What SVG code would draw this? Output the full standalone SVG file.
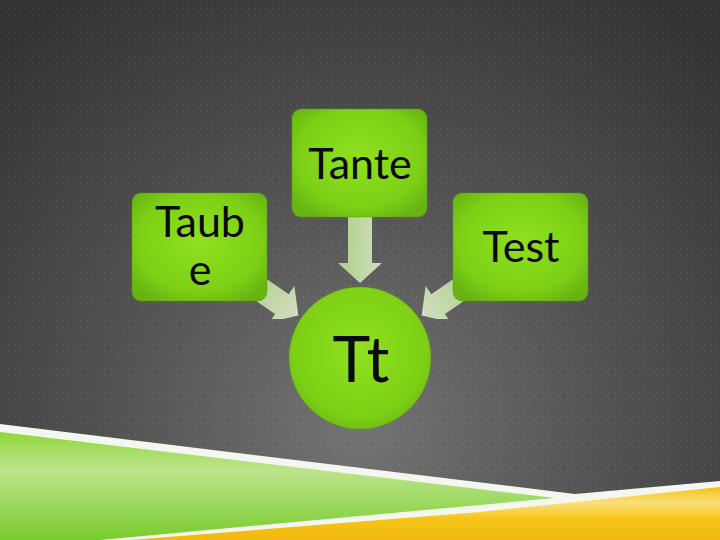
<svg xmlns="http://www.w3.org/2000/svg" width="720" height="540" viewBox="0 0 720 540">
  <defs>
    <radialGradient id="bg" cx="360" cy="430" r="520" gradientUnits="userSpaceOnUse">
      <stop offset="0" stop-color="#737373"/>
      <stop offset="0.45" stop-color="#545454"/>
      <stop offset="1" stop-color="#333333"/>
    </radialGradient>
    <pattern id="dots" width="6" height="6" patternUnits="userSpaceOnUse">
      <rect x="2" y="2" width="1.5" height="1.5" fill="#ffffff" fill-opacity="0.07"/>
    </pattern>
    <radialGradient id="nodeFill" cx="0.5" cy="0.45" r="0.65">
      <stop offset="0" stop-color="#8fe01e"/>
      <stop offset="0.7" stop-color="#7dd016"/>
      <stop offset="1" stop-color="#66b312"/>
    </radialGradient>
    <linearGradient id="arrowFill" x1="0" y1="0" x2="1" y2="0">
      <stop offset="0" stop-color="#b5d98c"/>
      <stop offset="1" stop-color="#dbe9c8"/>
    </linearGradient>
    <linearGradient id="greenBand" x1="0" y1="0" x2="0" y2="1">
      <stop offset="0" stop-color="#8fd83a"/>
      <stop offset="0.35" stop-color="#bde48c"/>
      <stop offset="1" stop-color="#78cc2c"/>
    </linearGradient>
    <linearGradient id="yellowBand" x1="0" y1="0" x2="0" y2="1">
      <stop offset="0" stop-color="#f5c21a"/>
      <stop offset="0.3" stop-color="#fbe07a"/>
      <stop offset="0.6" stop-color="#f6c418"/>
      <stop offset="1" stop-color="#f3b90e"/>
    </linearGradient>
    <clipPath id="arrowClip">
      <rect x="0" y="0" width="720" height="319"/>
    </clipPath>
    <path id="arrowShape" d="M0,-12 L46,-12 L46,-22 L66,0 L46,22 L46,12 L0,12 Z"/>
  </defs>
  <style>
    .node { fill: url(#nodeFill); stroke: #5a9e12; stroke-opacity: 0.5; stroke-width: 1; }
    .arrow { fill: url(#arrowFill); fill-opacity: 0.92; }
    .label { font-family: Lato, "Liberation Sans", sans-serif; fill: #0a0a0a; text-anchor: middle; }
  </style>

  <!-- background -->
  <rect x="0" y="0" width="720" height="540" fill="url(#bg)"/>
  <rect x="0" y="0" width="720" height="540" fill="url(#dots)"/>

  <!-- bottom decoration -->
  <polygon points="0,424 575,494 720,481 720,540 0,540" fill="#f4f6f0"/>
  <polygon points="0,432 555,498 100,540 0,540" fill="url(#greenBand)"/>
  <polygon points="130,540 480,512 720,487 720,540" fill="url(#yellowBand)"/>

  <!-- connectors -->
  <g id="connectors">
    <path class="arrow" d="M348,217 L372,217 L372,263 L382,263 L360,283 L338,263 L348,263 Z"/>
    <g clip-path="url(#arrowClip)">
      <use href="#arrowShape" class="arrow" transform="translate(244,278) rotate(34.6)"/>
      <use href="#arrowShape" class="arrow" transform="translate(476,278) rotate(145.4)"/>
    </g>
  </g>

  <!-- nodes -->
  <g id="node-tante">
    <rect class="node" x="292" y="109" width="135" height="108" rx="9"/>
    <text class="label" x="360" y="179" font-size="43">Tante</text>
  </g>
  <g id="node-taube">
    <rect class="node" x="132" y="193" width="135" height="108" rx="9"/>
    <text class="label" x="200" y="237" font-size="43">Taub</text>
    <text class="label" x="200" y="285" font-size="43">e</text>
  </g>
  <g id="node-test">
    <rect class="node" x="453" y="193" width="135" height="108" rx="9"/>
    <text class="label" x="521" y="262" font-size="43">Test</text>
  </g>
  <g id="node-tt">
    <circle class="node" cx="360" cy="358" r="71"/>
    <text class="label" x="361" y="382" font-size="64">Tt</text>
  </g>
</svg>
